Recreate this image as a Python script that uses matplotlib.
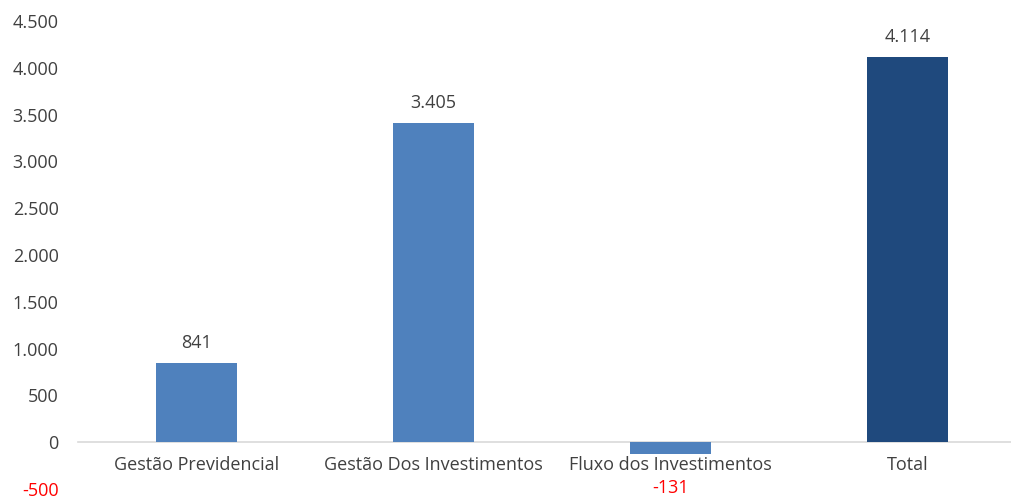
import matplotlib
matplotlib.use("Agg")
import matplotlib.pyplot as plt
from matplotlib.ticker import FuncFormatter

categories = ["Gestão Previdencial", "Gestão Dos Investimentos", "Fluxo dos Investimentos", "Total"]
values = [841, 3405, -131, 4114]
colors = ["#4F81BD", "#4F81BD", "#4F81BD", "#1F497D"]
yticks = [-500, 0, 500, 1000, 1500, 2000, 2500, 3000, 3500, 4000, 4500]

plt.rcParams['font.family'] = ['Open Sans', 'DejaVu Sans']
TXT = "#404040"
FS = 13

def fmt(v):
    s = f"{abs(int(v)):,}".replace(",", ".")
    return ("-" if v < 0 else "") + s

fig = plt.figure(figsize=(10.12, 4.99), dpi=100)
ax = fig.add_axes([78/1012, 10/499, 1 - 78/1012, (489-21)/499])
x = list(range(len(categories)))
ax.bar(x, values, width=0.34, color=colors, zorder=3)
ax.set_xlim(-0.5, 3.44)
ax.set_ylim(-500, 4500)
ax.set_yticks(yticks)
ax.yaxis.set_major_formatter(FuncFormatter(lambda v, p: fmt(v)))
ax.tick_params(axis='y', length=0, pad=14, labelsize=FS, labelcolor=TXT)
for lab, v in zip(ax.get_yticklabels(), yticks):
    if v < 0:
        lab.set_color("#FF0000")
for s in ["top", "right", "left"]:
    ax.spines[s].set_visible(False)
ax.spines["bottom"].set_position(("data", 0))
ax.spines["bottom"].set_color("#D9D9D9")
ax.spines["bottom"].set_linewidth(1.2)
ax.set_xticks(x)
ax.set_xticklabels(categories)
ax.tick_params(axis='x', length=0, pad=10, labelsize=FS, labelcolor=TXT)

for xi, v in zip(x, values):
    if v >= 0:
        ax.annotate(fmt(v), (xi, v), xytext=(0, 8), textcoords="offset points",
                    ha="center", va="bottom", fontsize=FS, color=TXT)
    else:
        ax.annotate(fmt(v), (xi, v), xytext=(0, -24), textcoords="offset points",
                    ha="center", va="center", fontsize=FS, color="#FF0000")

fig.savefig("out.png", dpi=100)
